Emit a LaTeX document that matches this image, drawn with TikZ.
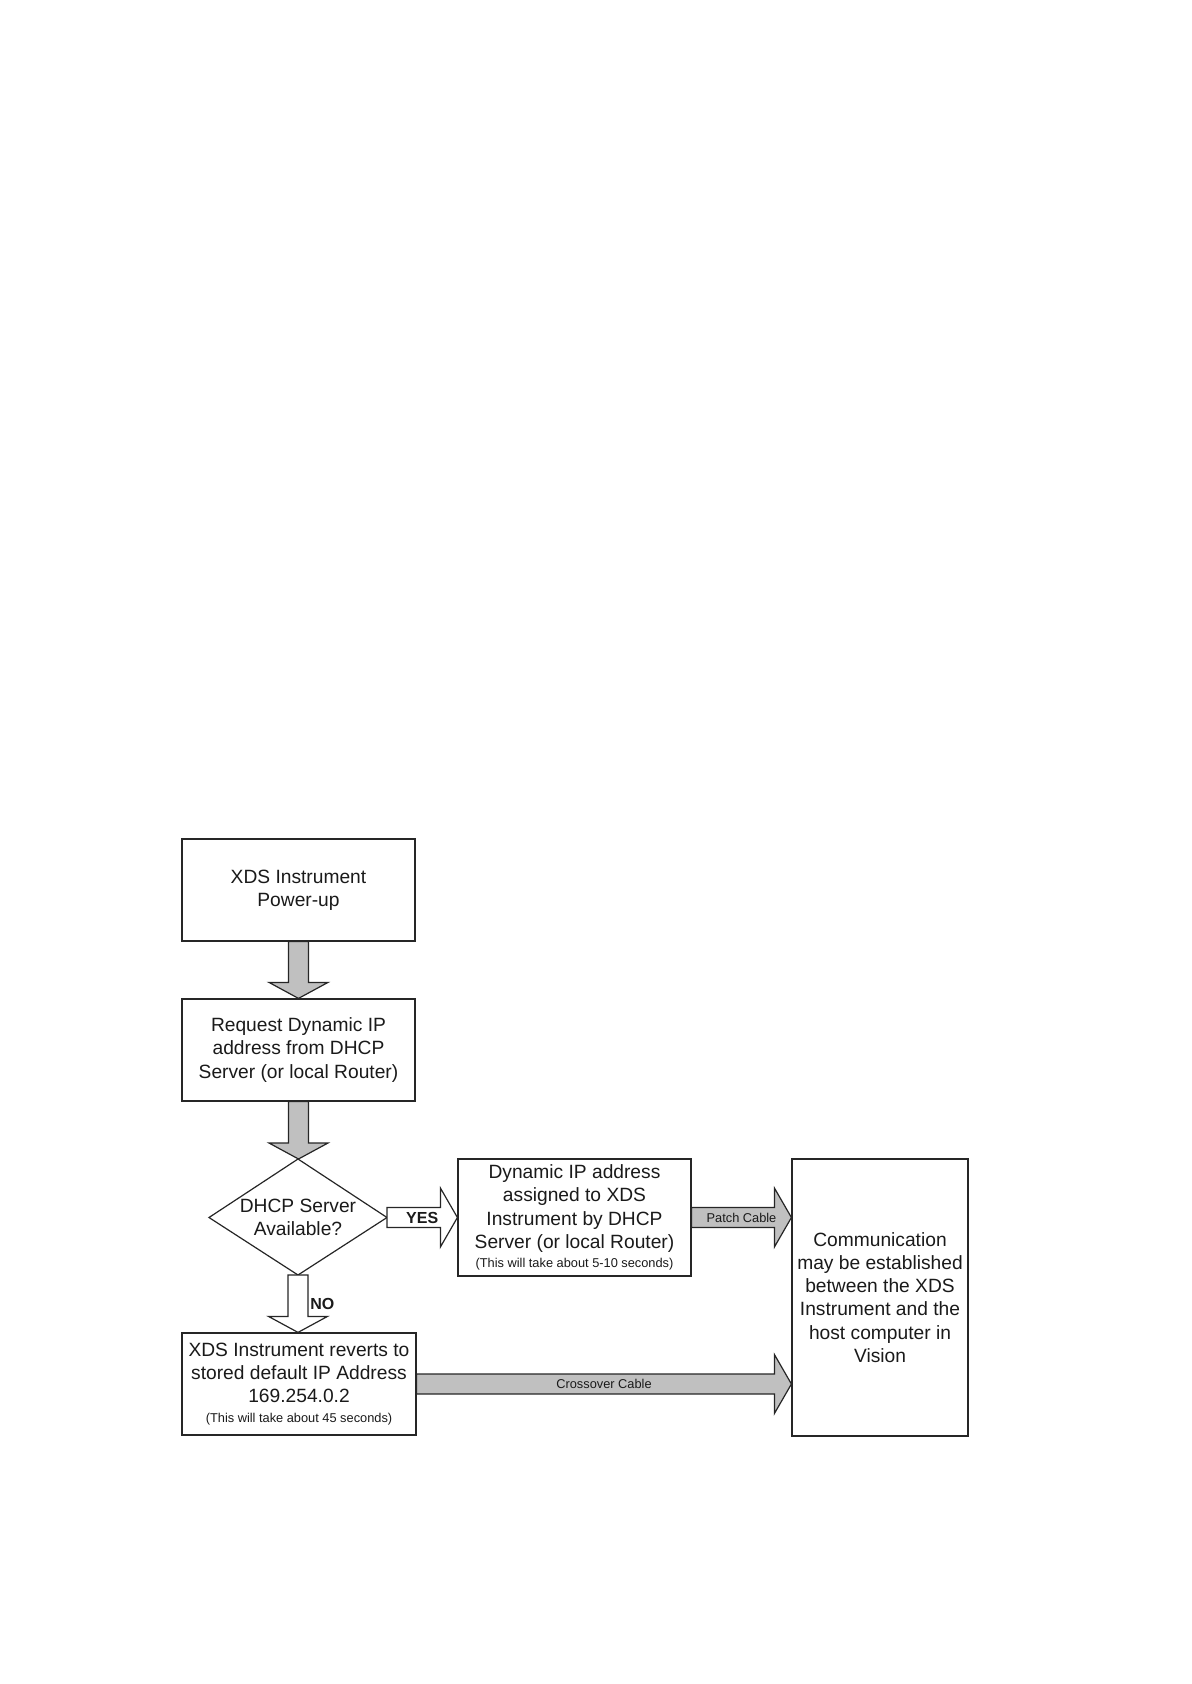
\documentclass[tikz,border=0pt]{standalone}
\usepackage{fontspec}
\setmainfont{Liberation Sans}
\usetikzlibrary{calc}
\definecolor{arrowgray}{HTML}{C0C0C0}
\definecolor{linegray}{HTML}{262626}
\definecolor{txtgray}{HTML}{1A1A1A}
\newcommand\bigtxt{\fontsize{9.6}{11.6}\selectfont}
\newcommand\smalltxt{\fontsize{6.4}{8}\selectfont}
% block arrow pointing down: #1 from, #2 to, #3 style
\newcommand\blkdown[3]{%
  \draw[#3] let \p1=(#1), \p2=(#2) in
    (\x1-5pt,\y1) -- (\x1-5pt,\y2+8pt) -- (\x1-14.75pt,\y2+8pt) -- (\x1,\y2)
    -- (\x1+14.75pt,\y2+8pt) -- (\x1+5pt,\y2+8pt) -- (\x1+5pt,\y1) -- cycle;}
% block arrow pointing right: #1 from, #2 to, #3 style
\newcommand\blkright[3]{%
  \draw[#3] let \p1=(#1), \p2=(#2) in
    (\x1,\y2+5pt) -- (\x2-8.5pt,\y2+5pt) -- (\x2-8.5pt,\y2+14.75pt) -- (\x2,\y2)
    -- (\x2-8.5pt,\y2-14.75pt) -- (\x2-8.5pt,\y2-5pt) -- (\x1,\y2-5pt) -- cycle;}
\begin{document}
\begin{tikzpicture}[x=0.5pt,y=-0.5pt,
  box/.style={draw=linegray,line width=0.6pt,fill=white,rectangle,inner sep=0pt,
    align=center,font=\bigtxt,text=txtgray},
  plain/.style={inner sep=0pt,align=center,font=\bigtxt,text=txtgray},
  grayarrow/.style={draw=linegray,line width=0.6pt,fill=arrowgray,line join=miter},
  whitearrow/.style={draw=linegray,line width=0.6pt,fill=white,line join=miter},
  boldlbl/.style={inner sep=0pt,font=\fontsize{8}{9}\selectfont\bfseries,text=txtgray},
  cablelbl/.style={inner sep=0pt,font=\smalltxt,text=txtgray}]
\useasboundingbox (0,0) rectangle (1191,1684);

% boxes
\node[box,minimum width=116.5pt,minimum height=51pt] (b1) at (298.5,890)
  {XDS Instrument\\Power-up};
\node[box,minimum width=116.5pt,minimum height=51pt] (b2) at (298.5,1050)
  {Request Dynamic IP\\address from DHCP\\Server (or local Router)};
\node[box,minimum width=116.5pt,minimum height=58.5pt] (b3) at (574.5,1217.5)
  {Dynamic IP address\\assigned to XDS\\Instrument by DHCP\\Server (or local Router)\\[-2pt]{\smalltxt (This will take about 5-10 seconds)}};
\node[box,minimum width=117pt,minimum height=51pt] (b4) at (299,1384)
  {XDS Instrument reverts to\\stored default IP Address\\169.254.0.2\\[-2pt]{\smalltxt (This will take about 45 seconds)}};
\node[box,minimum width=88pt,minimum height=138.5pt] (b5) at (880,1297.5)
  {Communication\\may be established\\between the XDS\\Instrument and the\\host computer in\\Vision};

% decision diamond
\coordinate (dT) at (298,1159);
\coordinate (dR) at (387,1217.5);
\coordinate (dB) at (298,1275);
\coordinate (dL) at (209,1217.5);
\draw[draw=linegray,line width=0.6pt,fill=white] (dT) -- (dR) -- (dB) -- (dL) -- cycle;
\node[plain] (dec) at (298,1217.5) {DHCP Server\\Available?};

% end points on the right box
\coordinate (p5) at (b5.west |- b3.east);
\coordinate (c5) at (b5.west |- b4.east);

% block arrows
\blkdown{b1.south}{b2.north}{grayarrow}
\blkdown{b2.south}{dT}{grayarrow}
\blkdown{dB}{b4.north}{whitearrow}
\blkright{dR}{b3.west}{whitearrow}
\blkright{b3.east}{p5}{grayarrow}
\blkright{b4.east}{c5}{grayarrow}

% labels
\node[boldlbl] (yes) at ($(dR)!0.5!(b3.west)$) {YES};
\node[boldlbl,anchor=west] (no) at ($($(dB)!0.5!(b4.north)$)+(11.5,0)$) {NO};
\node[cablelbl] (patch) at ($(b3.east)!0.5!(p5)$) {Patch Cable};
\node[cablelbl] (cross) at ($(b4.east)!0.5!(c5)$) {Crossover Cable};
\end{tikzpicture}
\end{document}
